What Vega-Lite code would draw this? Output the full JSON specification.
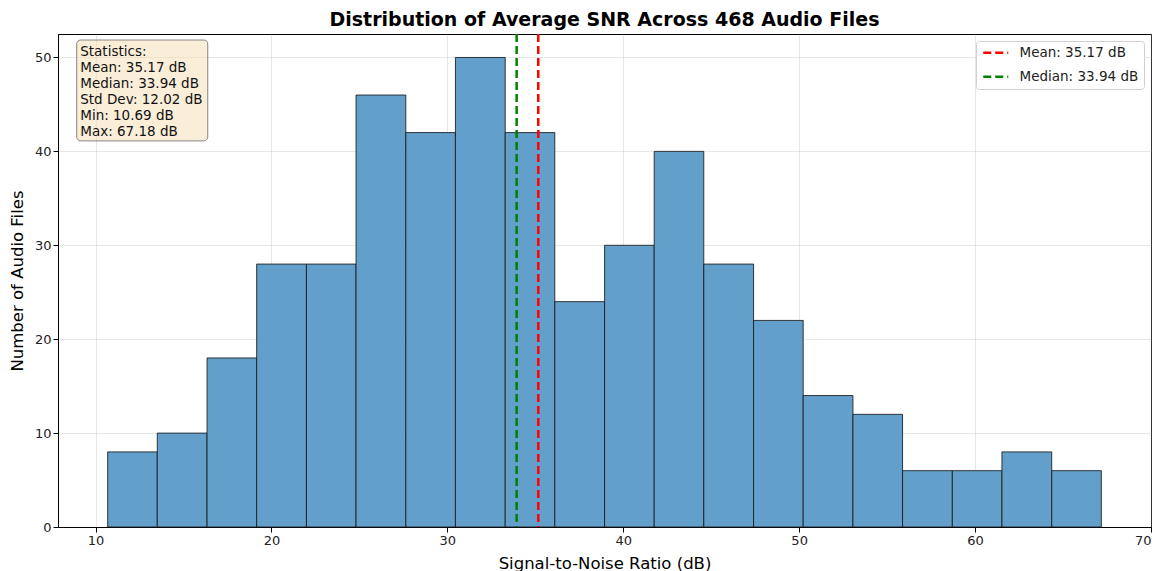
{
  "$schema": "https://vega.github.io/schema/vega-lite/v6.json",
  "width": 1093,
  "height": 493,
  "autosize": "none",
  "padding": {"left": 58, "top": 34, "right": 8, "bottom": 44},
  "background": "white",
  "title": {
    "text": "Distribution of Average SNR Across 468 Audio Files",
    "font": "DejaVu Sans",
    "fontSize": 19,
    "fontWeight": "bold",
    "color": "black",
    "anchor": "middle",
    "offset": 3
  },
  "config": {
    "font": "DejaVu Sans",
    "view": {"stroke": "black", "strokeWidth": 1},
    "axis": {
      "domainColor": "black",
      "tickColor": "black",
      "tickSize": 5,
      "labelFontSize": 13,
      "labelColor": "#222",
      "titleFontSize": 16.5,
      "titleFontWeight": "normal",
      "titleColor": "black",
      "gridColor": "#b0b0b0",
      "gridOpacity": 0.3,
      "zindex": 1
    },
    "legend": {
      "title": null,
      "orient": "top-right",
      "offset": 7,
      "padding": 5,
      "fillColor": "white",
      "strokeColor": "#d0d0d0",
      "cornerRadius": 3,
      "labelFontSize": 13.5,
      "labelColor": "#222",
      "symbolType": "M-2.5,0H2.5",
      "symbolStrokeWidth": 2.5,
      "symbolSize": 100,
      "symbolOffset": 8,
      "labelOffset": 17,
      "rowPadding": 9
    }
  },
  "datasets": {
    "bins": [
      {"bin_start": 10.69, "bin_end": 13.51, "count": 8},
      {"bin_start": 13.51, "bin_end": 16.34, "count": 10},
      {"bin_start": 16.34, "bin_end": 19.16, "count": 18},
      {"bin_start": 19.16, "bin_end": 21.99, "count": 28},
      {"bin_start": 21.99, "bin_end": 24.81, "count": 28},
      {"bin_start": 24.81, "bin_end": 27.64, "count": 46},
      {"bin_start": 27.64, "bin_end": 30.46, "count": 42},
      {"bin_start": 30.46, "bin_end": 33.29, "count": 50},
      {"bin_start": 33.29, "bin_end": 36.11, "count": 42},
      {"bin_start": 36.11, "bin_end": 38.94, "count": 24},
      {"bin_start": 38.94, "bin_end": 41.76, "count": 30},
      {"bin_start": 41.76, "bin_end": 44.58, "count": 40},
      {"bin_start": 44.58, "bin_end": 47.41, "count": 28},
      {"bin_start": 47.41, "bin_end": 50.23, "count": 22},
      {"bin_start": 50.23, "bin_end": 53.06, "count": 14},
      {"bin_start": 53.06, "bin_end": 55.88, "count": 12},
      {"bin_start": 55.88, "bin_end": 58.71, "count": 6},
      {"bin_start": 58.71, "bin_end": 61.53, "count": 6},
      {"bin_start": 61.53, "bin_end": 64.36, "count": 8},
      {"bin_start": 64.36, "bin_end": 67.18, "count": 6}
    ],
    "lines": [
      {"label": "Mean: 35.17 dB", "value": 35.17},
      {"label": "Median: 33.94 dB", "value": 33.94}
    ],
    "stats": [
      {"text": "Statistics:\nMean: 35.17 dB\nMedian: 33.94 dB\nStd Dev: 12.02 dB\nMin: 10.69 dB\nMax: 67.18 dB"}
    ]
  },
  "layer": [
    {
      "data": {"name": "bins"},
      "mark": {"type": "rect", "fill": "#629fca", "stroke": "#1a1a1a", "strokeWidth": 1, "strokeOpacity": 0.85},
      "encoding": {
        "x": {
          "field": "bin_start",
          "type": "quantitative",
          "scale": {"domain": [7.866, 70.004], "nice": false, "zero": false},
          "axis": {"values": [10, 20, 30, 40, 50, 60, 70], "title": "Signal-to-Noise Ratio (dB)", "titlePadding": 8}
        },
        "x2": {"field": "bin_end"},
        "y": {
          "field": "count",
          "type": "quantitative",
          "scale": {"domain": [0, 52.5], "nice": false},
          "axis": {"values": [0, 10, 20, 30, 40, 50], "title": "Number of Audio Files", "titlePadding": 9}
        },
        "y2": {"datum": 0}
      }
    },
    {
      "data": {"name": "lines"},
      "mark": {"type": "rule", "strokeWidth": 2.5},
      "encoding": {
        "x": {"field": "value", "type": "quantitative"},
        "color": {
          "field": "label",
          "type": "nominal",
          "scale": {"domain": ["Mean: 35.17 dB", "Median: 33.94 dB"], "range": ["#ff0000", "#008000"]}
        },
        "strokeDash": {
          "field": "label",
          "type": "nominal",
          "scale": {"domain": ["Mean: 35.17 dB", "Median: 33.94 dB"], "range": [[8, 4], [8, 4]]}
        }
      }
    },
    {
      "data": {"name": "stats"},
      "mark": {"type": "rect", "fill": "#f5deb3", "fillOpacity": 0.5, "stroke": "#555", "strokeOpacity": 0.7, "strokeWidth": 1, "cornerRadius": 4},
      "encoding": {
        "x": {"datum": 8.93, "type": "quantitative"},
        "x2": {"datum": 16.38},
        "y": {"datum": 51.86, "type": "quantitative"},
        "y2": {"datum": 41.12}
      }
    },
    {
      "data": {"name": "stats"},
      "mark": {"type": "text", "align": "left", "baseline": "top", "fontSize": 13.5, "lineHeight": 16, "lineBreak": "\n", "color": "#111"},
      "encoding": {
        "x": {"datum": 9.13, "type": "quantitative"},
        "y": {"datum": 51.3, "type": "quantitative"},
        "text": {"field": "text"}
      }
    }
  ]
}
